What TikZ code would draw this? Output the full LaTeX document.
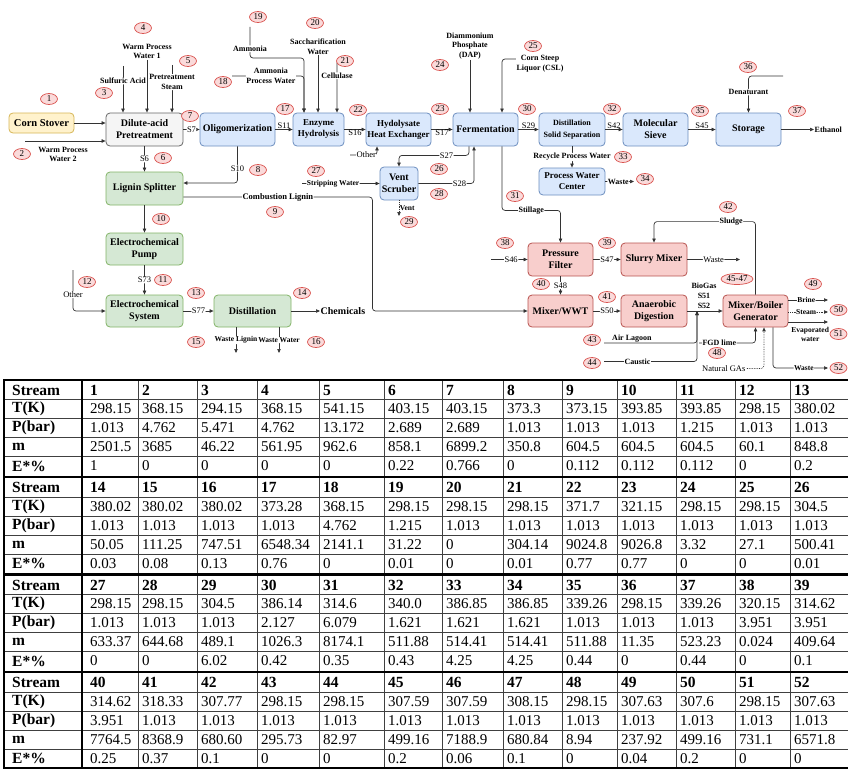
\documentclass[tikz,border=0pt]{standalone}
\usepackage{fontspec}
\setmainfont{Liberation Serif}
\usetikzlibrary{arrows.meta, shapes.geometric}

\definecolor{yelfill}{HTML}{FFF2CC}  \definecolor{yeldraw}{HTML}{D6B656}
\definecolor{bluefill}{HTML}{DAE8FC} \definecolor{bluedraw}{HTML}{6C8EBF}
\definecolor{greenfill}{HTML}{D5E8D4} \definecolor{greendraw}{HTML}{82B366}
\definecolor{redfill}{HTML}{F8CECC}  \definecolor{reddraw}{HTML}{B85450}
\definecolor{grayfill}{HTML}{F5F5F5} \definecolor{graydraw}{HTML}{666666}
\definecolor{tagfill}{HTML}{FADADA}  \definecolor{tagdraw}{HTML}{D9534F}

% x position of the text in table column #1
\newcommand{\tabcol}[1]{\pgfmathsetmacro{\cx}{{90,142,201,261,323,388,446,507,566,621,680,739,794}[#1-1]}}
% one table row: name, y, row label, values
\newcommand{\tabrow}[4]{%
  \node[tabhead] (#1-0) at (12,#2) {#3};
  \foreach \v [count=\c] in {#4} {\tabcol{\c}\node[tabcell] (#1-\c) at (\cx,#2) {\v};}}

\begin{document}
\begin{tikzpicture}[x=1pt, y=-1pt,
      block/.style = {
        rectangle, draw, line width=0.8pt, rounded corners=4pt, align=center,
        minimum width=65pt, minimum height=33pt, inner sep=1pt,
        font=\bfseries\fontsize{10}{12}\selectfont },
      block-gray/.style = { block, fill=grayfill, draw=graydraw },
      block-yellow/.style = { block, fill=yelfill, draw=yeldraw },
      block-blue/.style = { block, fill=bluefill, draw=bluedraw },
      block-green/.style = { block, fill=greenfill, draw=greendraw },
      block-red/.style = { block, fill=redfill, draw=reddraw },
      small9/.style = { font=\bfseries\fontsize{9}{11}\selectfont },
      tag/.style = {
        ellipse, draw=tagdraw, fill=tagfill, line width=0.7pt, inner sep=0pt,
        minimum width=17pt, minimum height=11pt, font=\fontsize{9}{9}\selectfont },
      lbl/.style = { inner sep=0.5pt, align=center, text=black,
        font=\bfseries\fontsize{8}{9.5}\selectfont },
      lbl-small/.style = { lbl, font=\bfseries\fontsize{7.5}{9}\selectfont },
      slbl/.style = { inner sep=0.5pt, text=black, font=\fontsize{8.5}{9.5}\selectfont },
      onl/.style = { fill=white },
      line/.style = { draw, line width=0.7pt, black!80, rounded corners=3pt,
        -{Triangle[length=4pt, width=3.4pt]} },
      line-dotted/.style = { line, densely dotted },
      tabhead/.style = { anchor=west, inner sep=0pt, font=\bfseries\fontsize{15.5}{16}\selectfont },
      tabcell/.style = { anchor=west, inner sep=0pt, font=\fontsize{15}{16}\selectfont },
      tabthin/.style = { draw, line width=0.5pt, black!75 },
      tabthick/.style = { draw, line width=2.5pt }]
    \useasboundingbox (0,0) rectangle (848,768);

    % process units
    \node [block-yellow, minimum height=20pt, font=\bfseries\fontsize{10.5}{12}\selectfont] (corn) at (41.5,123) {Corn Stover};
    \node [block-gray, minimum width=77pt] (pretreat) at (144.5,129.5) {Dilute-acid\\Pretreatment};
    \node [block-blue, minimum width=75pt] (oligo) at (237.5,129.5) {Oligomerization};
    \node [block-blue, minimum width=51pt, small9] (enzyme) at (318.5,129.5) {Enzyme\\Hydrolysis};
    \node [block-blue, small9] (hydhx) at (398.5,129.5) {Hydolysate\\Heat Exchanger};
    \node [block-blue] (ferment) at (485.5,129.5) {Fermentation};
    \node [block-blue, minimum width=66pt, font=\bfseries\fontsize{8}{12}\selectfont] (distss) at (572,129.5) {Distillation\\Solid Separation};
    \node [block-blue] (molsieve) at (655.5,129.5) {Molecular\\Sieve};
    \node [block-blue] (storage) at (748.5,129.5) {Storage};
    \node [block-blue, minimum width=66pt, minimum height=27pt, small9] (pwc) at (572,181.5) {Process Water\\Center};
    \node [block-blue, minimum width=38pt] (vent) at (399,183.5) {Vent\\Scruber};
    \node [block-green, minimum width=77pt] (splitter) at (144.5,188.5) {Lignin Splitter};
    \node [block-green, minimum width=77pt, minimum height=32pt] (pump) at (144.5,249) {Electrochemical\\Pump};
    \node [block-green, minimum width=77pt, minimum height=32pt] (ecsys) at (144.5,311) {Electrochemical\\System};
    \node [block-green, minimum width=77pt, minimum height=32pt] (distil) at (252.5,311) {Distillation};
    \node [block-red] (pfilter) at (560.5,259.5) {Pressure\\Filter};
    \node [block-red, minimum width=66pt] (slurry) at (654,259.5) {Slurry Mixer};
    \node [block-red, minimum height=32pt] (mixwwt) at (560.5,311) {Mixer/WWT};
    \node [block-red, minimum width=66pt, minimum height=32pt] (anaer) at (654,311) {Anaerobic\\Digestion};
    \node [block-red, minimum height=32pt] (boiler) at (755.5,311) {Mixer/Boiler\\Generator};

    % labels with a line leaving them
    \node [lbl] (wpw1) at (147,51.5) {Warm Process\\Water 1};
    \node [lbl] (wpw2) at (63,154.5) {Warm Process\\Water 2};
    \node [lbl] (sacch) at (318,46.5) {Saccharification\\Water};
    \node [lbl] (dap) at (470,46) {Diammonium\\Phosphate\\(DAP)};
    \node [lbl] (csl) at (540,63.5) {Corn Steep\\Liquor (CSL)};
    \node [lbl, anchor=west] (ethanol) at (814,129.5) {Ethanol};
    \node [lbl, anchor=west, font=\bfseries\fontsize{10}{12}\selectfont] (chem) at (320,311) {Chemicals};
    \node [lbl, font=\bfseries\fontsize{8}{10}\selectfont] (biogas) at (704,296) {BioGas\\S51\\S52};

    % free ends
    \coordinate (wpw2-in) at (25,141);
    \coordinate (sulf-in) at (123,66);
    \coordinate (steam-in) at (172,65);
    \coordinate (nh3-in) at (250,27);
    \coordinate (apw-in) at (232,76);
    \coordinate (cell-in) at (344,60);
    \coordinate (oth1-in) at (350,155);
    \coordinate (denat-in) at (783,76);
    \coordinate (pwc-out) at (634,181.5);
    \coordinate (strip-in) at (302,183.5);
    \coordinate (vent-out) at (399,216);
    \coordinate (oth2-in) at (73,270);
    \coordinate (wl-out) at (236,353);
    \coordinate (ww-out) at (279,353);
    \coordinate (s46-in) at (491,259.5);
    \coordinate (sw-out) at (740,259.5);
    \coordinate (bg-join) at (697,311);
    \coordinate (air-in) at (604,343);
    \coordinate (caus-in) at (604,361.5);
    \coordinate (fgd-in) at (699,343);
    \coordinate (ng-in) at (703,368.5);
    \coordinate (brine-out) at (828,300);
    \coordinate (steam-out) at (828,312);
    \coordinate (evap-out) at (828,322);
    \coordinate (bw-out) at (828,368);

    % connect all units
    \draw[line] (corn) -- (corn -| pretreat.west);
    \draw[line] (wpw2-in) -- (wpw2-in -| pretreat.west);
    \draw[line] (sulf-in) -- node[pos=0.32, lbl, onl] (sulf) {Sulfuric Acid} (sulf-in |- pretreat.north);
    \draw[line] (wpw1) -- (wpw1 |- pretreat.north);
    \draw[line] (steam-in) -- node[pos=0.36, lbl, onl] (psteam) {Pretreatment\\Steam} (steam-in |- pretreat.north);
    \draw[line] (pretreat) -- node[slbl, onl] (s7) {S7} (oligo);
    \draw[line] (pretreat) -- node[slbl, onl] (s6) {S6} (splitter);
    \draw[line] (oligo.south) |- node[pos=0.3, slbl, onl] (s10) {S10} ([yshift=5.5pt]splitter.east);
    \draw[line] (oligo) -- node[slbl, above] (s11) {S11} (enzyme);
    \draw[line] (nh3-in) -- node[pos=0.7, lbl, onl] (ammonia) {Ammonia} ++(0,31) -| ([xshift=-14.5pt]enzyme.north);
    \draw[line] (apw-in) -| node[pos=0.27, lbl, onl] (apw) {Ammonia\\Process Water} ([xshift=-14.5pt]enzyme.north);
    \draw[line] (sacch) -- (sacch |- enzyme.north);
    \draw[line] (cell-in) -| node[pos=0.65, lbl, onl] (cellulase) {Cellulase} ([xshift=18.5pt]enzyme.north);
    \draw[line] (enzyme) -- node[slbl, below] (s16) {S16} (hydhx);
    \draw[line] (oth1-in) -| node[pos=0.3, slbl, onl] (other1) {Other} ([xshift=-21.5pt]hydhx.south);
    \draw[line] (hydhx) -- node[slbl, below] (s17) {S17} (ferment);
    \draw[line] (dap) -- (dap |- ferment.north);
    \draw[line] ([yshift=4.5pt]csl.west) -| ([xshift=16.5pt]ferment.north);
    \draw[line] (ferment) -- node[slbl, above] (s29) {S29} (distss);
    \draw[line] (distss) -- node[slbl, above] (s42) {S42} (molsieve);
    \draw[line] (molsieve) -- node[slbl, above] (s45) {S45} (storage);
    \draw[line] (storage) -- (ethanol);
    \draw[line] (denat-in) -| node[pos=0.72, lbl, onl] (denat) {Denaturant} (storage.north);
    \draw[line] (distss) -- node[lbl, onl] (recycle) {Recycle Process Water} (pwc);
    \draw[line] (pwc) -- node[pos=0.45, lbl, onl] (waste1) {Waste} (pwc-out);
    \draw[line] ([xshift=-16.5pt]ferment.south) -- ++(0,9) -| node[pos=0.16, slbl, onl] (s27) {S27} (vent.north);
    \draw[line] (vent.east) -| node[pos=0.37, slbl, onl] (s28) {S28} ([xshift=-11.5pt]ferment.south);
    \draw[line] (strip-in) -- node[pos=0.4, lbl-small, onl] (strip) {Stripping Water} (vent);
    \draw[line-dotted] (vent) -- node[lbl-small, right] (ventlbl) {Vent} (vent-out);
    \draw[line] ([xshift=16.5pt]ferment.south) -- ++(0,64) -| node[pos=0.25, lbl, onl] (stillage) {Stillage} (pfilter.north);
    \draw[line] ([yshift=-8.5pt]splitter.east) -- node[lbl, onl, font=\bfseries\fontsize{8.5}{10}\selectfont] (comblig) {Combustion Lignin} ++(189,0) |- (mixwwt.west);
    \draw[line] (splitter) -- (pump);
    \draw[line] (pump) -- node[slbl, onl] (s73) {S73} (ecsys);
    \draw[line] (oth2-in) |- node[pos=0.3, slbl, onl] (other2) {Other} (ecsys.west);
    \draw[line] (ecsys) -- node[slbl, onl] (s77) {S77} (distil);
    \draw[line] (distil) -- (chem);
    \draw[line] ([xshift=-16.5pt]distil.south) -- node[lbl-small, onl] (wlig) {Waste Lignin} (wl-out);
    \draw[line] ([xshift=26.5pt]distil.south) -- node[lbl-small, onl] (wwat) {Waste Water} (ww-out);
    \draw[line] (s46-in) -- node[pos=0.55, slbl, onl] (s46) {S46} (pfilter);
    \draw[line] (pfilter) -- node[slbl, onl] (s47) {S47} (slurry);
    \draw[line] (slurry) -- node[slbl, onl] (waste2) {Waste} (sw-out);
    \draw[line] (pfilter) -- node[slbl, onl] (s48) {S48} (mixwwt);
    \draw[line] (mixwwt) -- node[slbl, onl] (s50) {S50} (anaer);
    \draw[line] (anaer) -- (boiler);
    \draw[line] (air-in) -| node[pos=0.15, lbl, above] (air) {Air Lagoon} (bg-join);
    \draw[line] (caus-in) -| node[pos=0.18, lbl, onl] (caustic) {Caustic} (bg-join);
    \draw[line] (fgd-in) -| node[pos=0.18, lbl, onl] (fgd) {FGD lime} (boiler.south);
    \draw[line-dotted] (ng-in) -| node[pos=0.17, slbl, onl] (natgas) {Natural GAs} ([xshift=8.5pt]boiler.south);
    \draw[line] (boiler.north) -- ++(0,-73) -| node[pos=0.12, lbl, onl] (sludge) {Sludge} (slurry.north);
    \draw[line] ([yshift=11pt]boiler.east) -- node[pos=0.45, lbl-small, onl] (brine) {Brine} (brine-out);
    \draw[line-dotted] ([yshift=-1pt]boiler.east) -- node[pos=0.45, lbl-small, onl] (steam) {Steam} (steam-out);
    \draw[line] ([yshift=-11pt]boiler.east) -- node[pos=0.55, below=4pt, lbl-small] (evap) {Evaporated\\water} (evap-out);
    \draw[line] ([xshift=17.5pt]boiler.south) |- node[pos=0.78, lbl-small, onl] (waste3) {Waste} (bw-out);

    % stream numbers
    \foreach \n/\x/\y in {1/49/99, 2/22/154, 3/104/93, 4/143/28, 5/188/61, 6/163/158,
        7/190/116, 8/258/170, 9/275/212, 10/161/219, 11/163/280, 12/87/282,
        13/196/293, 14/302/293, 15/196/342, 16/316/342, 17/285/109, 18/223/82,
        19/258/17, 20/315/23, 21/345/61, 22/358/110, 23/440/109, 24/440/65,
        25/533/46, 26/439/169, 27/316/171, 28/439/194, 29/409/222, 30/527/109,
        31/515/196, 32/612/109, 33/623/157, 34/645/179, 35/700/111, 36/748/67,
        37/797/111, 38/505/243, 39/607/243, 40/541/284, 41/607/297, 42/728/207,
        43/592/340, 44/592/363, 48/717/353, 49/813/284, 50/838.5/310, 51/838.5/334,
        52/838.5/368}
      \node [tag] (tag\n) at (\x,\y) {\n};
    \node [tag, minimum width=32pt] (tag45) at (737,279) {45-47};

    % stream table
    \foreach \xx in {138,197,257,319,384,442,503,562,617,676,735,790}
      \draw[tabthin] (\xx,380) -- (\xx,768);
    \foreach \b in {0,...,3}
      \foreach \k in {1,...,4}
        \draw[tabthin] (4,380.5+97.5*\b+19*\k) -- (850,380.5+97.5*\b+19*\k);
    \foreach \yy in {476.75, 574.25, 671.75}
      \draw[tabthick] (4,\yy) -- (850,\yy);
    \draw[tabthick] (4,380) -- (850,380);
    \draw[tabthick] (4,768) -- (850,768);
    \draw[tabthick] (4,379) -- (4,769);
    \draw[tabthick] (82,379) -- (82,769);
    \foreach \b in {0,...,3} {
      \node[tabhead] (hd\b) at (12,390+97.5*\b) {Stream};
      \foreach \c in {1,...,13} {
        \pgfmathtruncatemacro{\sn}{13*\b+\c}
        \tabcol{\c}
        \node[tabhead] (h\sn) at (\cx,390+97.5*\b) {\sn};
      }
    }
    \tabrow{ta}{409}{T(K)}{298.15,368.15,294.15,368.15,541.15,403.15,403.15,373.3,373.15,393.85,393.85,298.15,380.02}
    \tabrow{pa}{428}{P(bar)}{1.013,4.762,5.471,4.762,13.172,2.689,2.689,1.013,1.013,1.013,1.215,1.013,1.013}
    \tabrow{ma}{447}{m}{2501.5,3685,46.22,561.95,962.6,858.1,6899.2,350.8,604.5,604.5,604.5,60.1,848.8}
    \tabrow{ea}{466}{E*\%}{1,0,0,0,0,0.22,0.766,0,0.112,0.112,0.112,0,0.2}
    \tabrow{tb}{506.5}{T(K)}{380.02,380.02,380.02,373.28,368.15,298.15,298.15,298.15,371.7,321.15,298.15,298.15,304.5}
    \tabrow{pb}{525.5}{P(bar)}{1.013,1.013,1.013,1.013,4.762,1.215,1.013,1.013,1.013,1.013,1.013,1.013,1.013}
    \tabrow{mb}{544.5}{m}{50.05,111.25,747.51,6548.34,2141.1,31.22,0,304.14,9024.8,9026.8,3.32,27.1,500.41}
    \tabrow{eb}{563.5}{E*\%}{0.03,0.08,0.13,0.76,0,0.01,0,0.01,0.77,0.77,0,0,0.01}
    \tabrow{tc}{604}{T(K)}{298.15,298.15,304.5,386.14,314.6,340.0,386.85,386.85,339.26,298.15,339.26,320.15,314.62}
    \tabrow{pc}{623}{P(bar)}{1.013,1.013,1.013,2.127,6.079,1.621,1.621,1.621,1.013,1.013,1.013,3.951,3.951}
    \tabrow{mc}{642}{m}{633.37,644.68,489.1,1026.3,8174.1,511.88,514.41,514.41,511.88,11.35,523.23,0.024,409.64}
    \tabrow{ec}{661}{E*\%}{0,0,6.02,0.42,0.35,0.43,4.25,4.25,0.44,0,0.44,0,0.1}
    \tabrow{td}{701.5}{T(K)}{314.62,318.33,307.77,298.15,298.15,307.59,307.59,308.15,298.15,307.63,307.6,298.15,307.63}
    \tabrow{pd}{720.5}{P(bar)}{3.951,1.013,1.013,1.013,1.013,1.013,1.013,1.013,1.013,1.013,1.013,1.013,1.013}
    \tabrow{md}{739.5}{m}{7764.5,8368.9,680.60,295.73,82.97,499.16,7188.9,680.84,8.94,237.92,499.16,731.1,6571.8}
    \tabrow{ed}{758.5}{E*\%}{0.25,0.37,0.1,0,0,0.2,0.06,0.1,0,0.04,0.2,0,0}
  \end{tikzpicture}
\end{document}
